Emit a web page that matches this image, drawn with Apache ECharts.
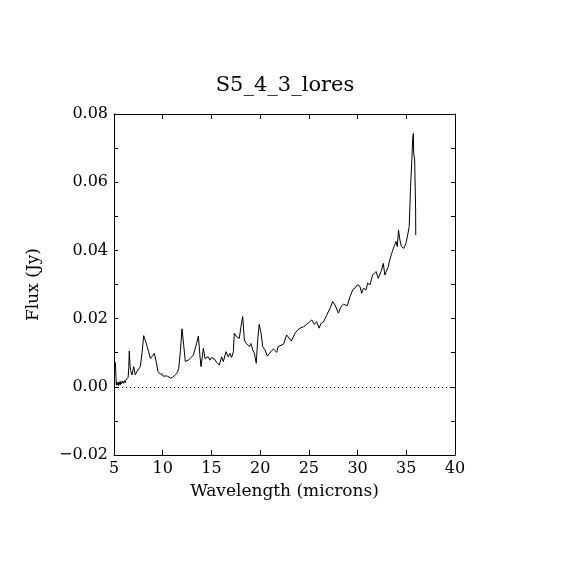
<!DOCTYPE html>
<html>
<head>
<meta charset="utf-8">
<script src="https://cdn.jsdelivr.net/npm/echarts@6/dist/echarts.min.js"></script>
<style>
html,body{margin:0;padding:0;background:#fff;}
#chart{width:570px;height:570px;}
</style>
</head>
<body>
<div id="chart"></div>
<script>
const titleText = "S5_4_3_lores";
const xName = "Wavelength (microns)";
const yName = "Flux (Jy)";
const wavelength = [5.15,5.2,5.25,5.3,5.35,5.4,5.45,5.5,5.55,5.6,5.65,5.7,5.75,5.8,5.85,5.9,5.95,6.0,6.05,6.1,6.15,6.2,6.25,6.3,6.35,6.45,6.52,6.57,6.63,6.7,6.85,
7.02,7.19,7.35,7.53,7.7,7.88,8.05,8.21,8.4,8.56,8.73,8.9,9.14,9.33,9.52,9.6,9.7,9.8,9.9,9.95,10.05,10.1,10.2,10.27,10.4,
10.5,10.6,10.7,10.78,10.9,11.0,11.1,11.2,11.29,11.5,11.64,11.81,11.98,12.15,12.32,12.6,12.83,13.14,13.49,13.66,13.83,13.93,14.1,14.17,14.34,
14.68,14.85,15.0,15.37,15.54,15.81,16.05,16.22,16.5,16.72,16.9,17.07,17.25,17.35,17.59,17.86,18.11,18.21,18.38,18.55,
18.7,18.9,19.05,19.24,19.41,19.6,19.75,19.9,20.1,20.26,20.5,20.74,20.84,21.1,21.35,21.5,21.7,21.85,22.0,22.4,
22.72,23.2,23.58,23.83,24.1,24.43,24.78,24.96,25.29,25.56,25.8,26.05,26.25,26.5,26.83,27.17,27.44,27.68,28.03,28.3,
28.55,28.7,28.94,29.22,29.5,29.72,29.97,30.25,30.42,30.6,30.87,31.03,31.27,31.55,31.7,31.9,32.12,32.3,32.46,32.64,
32.8,32.97,33.15,33.3,33.5,33.74,33.94,34.08,34.2,34.35,34.5,34.74,34.97,35.14,35.3,35.44,35.57,35.65,35.72,35.76,
35.86,35.96,35.97];
const flux = [0.0072,0.0030,0.0005,0.0014,0.0006,0.0012,0.0003,0.0013,0.0007,0.0015,0.0006,0.0016,0.0009,0.0014,0.0008,0.0017,0.0010,0.0015,0.0009,0.0018,0.0012,0.0019,0.0014,0.0024,0.0020,0.0028,0.0060,0.0105,0.0070,0.0048,0.0035,
0.0059,0.0035,0.0045,0.0044,0.0059,0.0100,0.0150,0.0137,0.0118,0.0103,0.0083,0.0083,0.0098,0.0074,0.0044,0.0047,0.0038,0.0041,0.0034,0.0037,0.0031,0.0035,0.0029,0.0032,0.0028,
0.0031,0.0027,0.0030,0.0026,0.0029,0.0027,0.0032,0.0029,0.0035,0.0042,0.0054,0.0103,0.0170,0.0123,0.0074,0.0078,0.0083,0.0093,0.0128,0.0149,0.0088,0.0059,0.0060,0.0113,0.0083,
0.0088,0.0078,0.0086,0.0080,0.0071,0.0064,0.0088,0.0074,0.0103,0.0088,0.0098,0.0086,0.0103,0.0157,0.0147,0.0142,0.0191,0.0206,0.0137,0.0128,
0.0132,0.0118,0.0127,0.0108,0.0098,0.0069,0.0137,0.0183,0.0157,0.0118,0.0108,0.0090,0.0093,0.0103,0.0111,0.0108,0.0101,0.0118,0.0123,0.0125,
0.0152,0.0134,0.0157,0.0166,0.0172,0.0176,0.0183,0.0186,0.0196,0.0183,0.0191,0.0172,0.0186,0.0190,0.0210,0.0230,0.0250,0.0240,0.0216,0.0235,
0.0242,0.0240,0.0238,0.0264,0.0284,0.0289,0.0299,0.0294,0.0274,0.0289,0.0284,0.0304,0.0299,0.0328,0.0323,0.0338,0.0318,0.0313,0.0342,0.0362,
0.0328,0.0323,0.0352,0.0372,0.0391,0.0411,0.0426,0.0411,0.0460,0.0430,0.0411,0.0406,0.0421,0.0445,0.0470,0.0587,0.0665,0.0724,0.0743,0.0685,
0.0665,0.0518,0.0445];

const points = wavelength.map((w, i) => [w, flux[i]]);
const font = "DejaVu Serif";

const chart = echarts.init(document.getElementById('chart'));
const baseX = {
  type: 'value', min: 5, max: 40, interval: 5,
  axisLine: {show: true, onZero: false, lineStyle: {color: '#000', width: 1}},
  axisTick: {show: true, inside: true, length: 5, lineStyle: {color: '#000'}},
  splitLine: {show: false}
};
const baseY = {
  type: 'value', min: -0.02, max: 0.08, interval: 0.02,
  axisLine: {show: true, onZero: false, lineStyle: {color: '#000', width: 1}},
  axisTick: {show: true, inside: true, length: 4, lineStyle: {color: '#000'}},
  minorTick: {show: true, splitNumber: 2, length: 4, lineStyle: {color: '#000'}},
  splitLine: {show: false}
};
chart.setOption({
  animation: false,
  backgroundColor: '#fff',
  title: {
    text: titleText, left: 'center', top: 70,
    textStyle: {fontFamily: font, fontSize: 21, fontWeight: 'normal', color: '#000'}
  },
  grid: {left: 114, right: 115, top: 114, bottom: 115, containLabel: false},
  xAxis: [
    Object.assign({}, baseX, {
      position: 'bottom', name: xName, nameLocation: 'middle', nameGap: 28,
      nameTextStyle: {fontFamily: font, fontSize: 17, color: '#000'},
      axisLabel: {show: true, margin: 6, fontFamily: font, fontSize: 16, color: '#000'}
    }),
    Object.assign({}, baseX, {position: 'top', axisLabel: {show: false}})
  ],
  yAxis: [
    Object.assign({}, baseY, {
      position: 'left', name: yName, nameLocation: 'middle', nameGap: 72,
      nameTextStyle: {fontFamily: font, fontSize: 17, color: '#000'},
      axisLabel: {show: true, margin: 6, fontFamily: font, fontSize: 16, color: '#000',
        formatter: v => v.toFixed(2).replace('-', '\u2212')}
    }),
    Object.assign({}, baseY, {position: 'right', axisLabel: {show: false}})
  ],
  series: [{
    type: 'line', data: points, xAxisIndex: 0, yAxisIndex: 0,
    showSymbol: false, symbol: 'none',
    lineStyle: {color: '#000', width: 1},
    markLine: {
      silent: true, symbol: 'none', label: {show: false},
      lineStyle: {color: '#000', type: [1, 3], width: 1},
      data: [{yAxis: 0}]
    }
  }]
});
</script>
</body>
</html>
